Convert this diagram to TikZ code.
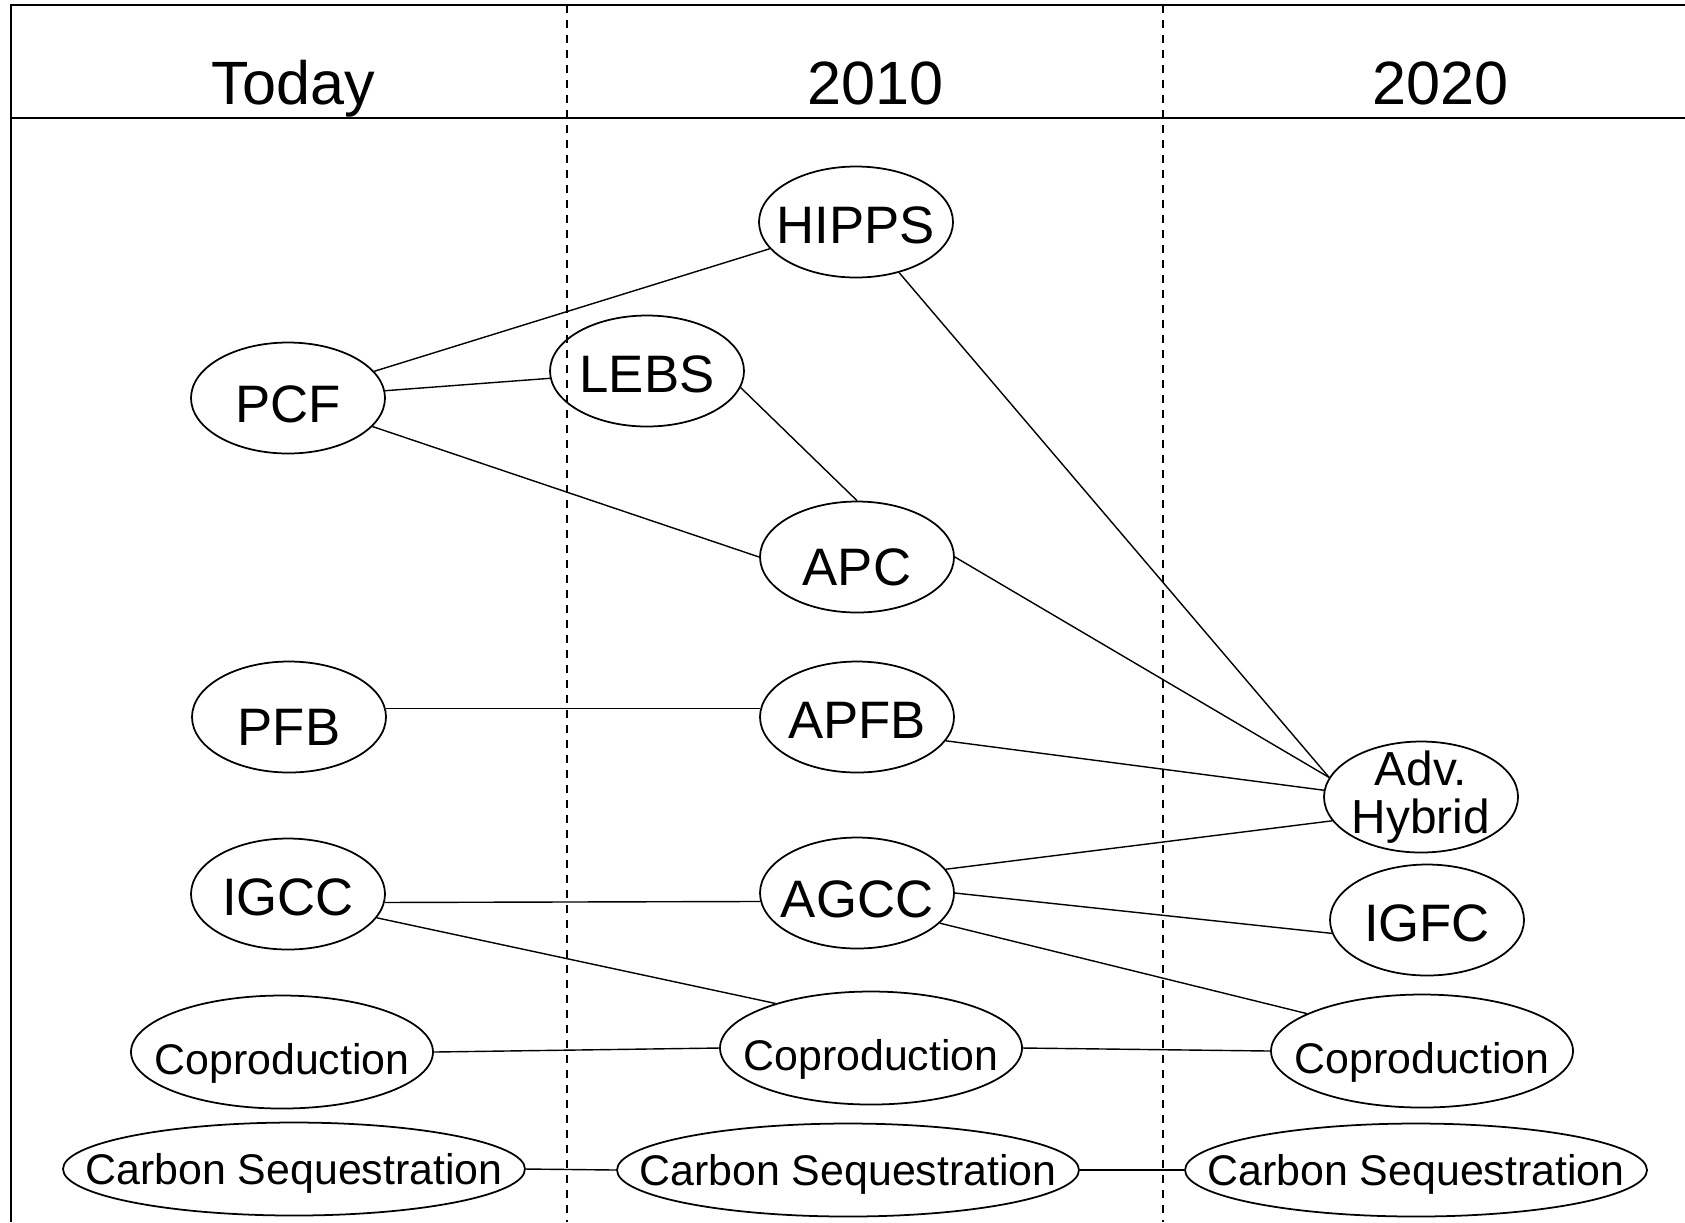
\documentclass[tikz,border=0pt]{standalone}
\usepackage{fontspec}
\setmainfont{Liberation Sans}
\usetikzlibrary{shapes}

\begin{document}
\begin{tikzpicture}[x=0.1mm, y=-0.1mm]
        \tikzstyle{blob} = [ellipse, minimum width = 19.4mm, minimum height = 11.1mm, inner sep = -2cm, text centered, text height = 12pt, text depth = 0pt, draw=black, line width=0.5pt, font=\fontsize{15}{18}\selectfont]
        \tikzstyle{low} = [text height = 14pt]
        \tikzstyle{lower} = [text height = 16pt]
        \tikzstyle{wideblob} = [blob, minimum width = 30.2mm, minimum height = 11.3mm, text height = 12.9pt, font=\fontsize{12.2}{14}\selectfont]
        \tikzstyle{longblob} = [blob, minimum width = 46.2mm, minimum height = 9.3mm, text height = 9pt, font=\fontsize{12.2}{14}\selectfont]
        \tikzstyle{year} = [anchor=base, font=\fontsize{17.4}{20}\selectfont]
        \tikzstyle{link} = [line width=0.4pt]
        \tikzstyle{frame} = [line width=0.8pt]
        \tikzstyle{divider} = [line width=0.5pt, dash pattern=on 0.8mm off 0.7mm]

        \useasboundingbox (0,0) rectangle (1685,1222);

        % header and columns
        \draw[frame] (1685,5) -- (11,5) -- (11,1222);
        \draw[frame] (11,118) -- (1685,118);
        \draw[divider] (567,5) -- (567,1222);
        \draw[divider] (1163,5) -- (1163,1222);
        \node (today) [year] at (293,104) {Today};
        \node (y2010) [year] at (876,104) {2010};
        \node (y2020) [year] at (1440,104) {2020};

        % technologies
        \node (hipps) [blob] at (856,222) {HIPPS};
        \node (pcf) [blob, low] at (288,398) {PCF};
        \node (lebs) [blob] at (647,371) {LEBS};
        \node (apc) [blob, lower] at (857,557) {APC};
        \node (pfb) [blob, lower] at (289,717) {PFB};
        \node (apfb) [blob] at (857,717) {APFB};
        \node (igcc) [blob] at (288,894) {IGCC};
        \node (agcc) [blob, low] at (857,893) {AGCC};
        \node (hybrid) [blob, align=center, text height=, text depth=, font=\fontsize{13.6}{13.7}\selectfont] at (1421,797) {Adv.\\Hybrid};
        \node (igfc) [blob] at (1427,920) {IGFC};
        \node (coprod1) [wideblob] at (282,1052) {Coproduction};
        \node (coprod2) [wideblob] at (871,1048) {Coproduction};
        \node (coprod3) [wideblob] at (1422,1051) {Coproduction};
        \node (seq1) [longblob] at (294,1169) {Carbon Sequestration};
        \node (seq2) [longblob] at (848,1170) {Carbon Sequestration};
        \node (seq3) [longblob] at (1416,1170) {Carbon Sequestration};

        % paths
        \draw[link] (pcf) -- (hipps);
        \draw[link] (pcf) -- (lebs);
        \draw[link] (pcf) -- (apc.west);
        \draw[link] (lebs.-10) -- (apc.north);
        \draw[link] (hipps) -- (hybrid.168);
        \draw[link] (apc.east) -- (hybrid.168);
        \draw[link] (apfb.-15) -- (hybrid.176);
        \draw[link] (pfb.5) -- (apfb.175);
        \draw[link] (agcc.15) -- (hybrid.195);
        \draw[link] (igcc.-5) -- (agcc.185);
        \draw[link] (igcc.-15) -- (coprod2.155);
        \draw[link] (agcc.east) -- (igfc.188);
        \draw[link] (agcc.-20) -- (coprod3.162);
        \draw[link] (coprod1.east) -- (coprod2.west);
        \draw[link] (coprod2.east) -- (coprod3.west);
        \draw[link] (seq1.east) -- (seq2.west);
        \draw[link] (seq2.east) -- (seq3.west);
\end{tikzpicture}
\end{document}
